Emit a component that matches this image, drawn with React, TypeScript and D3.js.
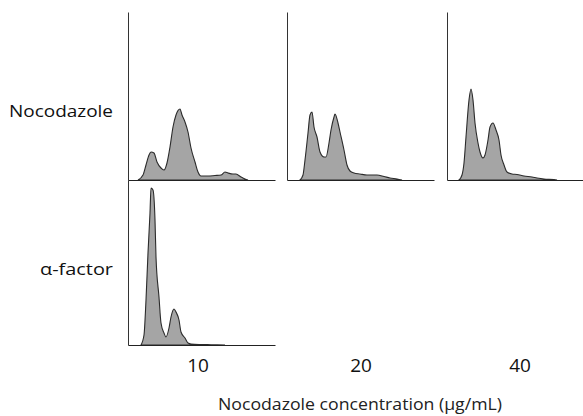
import React from 'react';
import * as d3 from 'd3';

// DNA content histograms: [channel, count]
const noco10 = [
  [10, 0], [15, 5], [18, 15], [21, 25], [23, 28], [26, 27], [29, 18], [33, 12], [36, 10],
  [39, 17], [42, 33], [45, 53], [48, 65], [52, 71], [54, 65], [57, 58], [60, 48], [63, 32],
  [67, 18], [70, 8], [73, 4], [80, 4], [87, 4.5], [93, 5], [97, 8], [100, 7], [105, 6],
  [108, 6], [113, 3], [117, 1], [120, 0],
];
const noco20 = [
  [13, 0], [16, 5], [18, 20], [21, 47], [23, 65], [25, 68], [27, 53], [30, 43], [33, 28],
  [37, 23], [39, 23], [42, 37], [44, 50], [47, 63], [48, 66], [51, 57], [53, 48], [57, 30],
  [60, 15], [63, 9], [67, 7], [73, 6], [80, 5], [90, 5], [97, 3.5], [103, 2], [110, 1], [115, 0],
];
const noco40 = [
  [12, 0], [15, 5], [17, 17], [19, 43], [22, 80], [24, 91], [26, 80], [28, 57], [31, 37],
  [33, 28], [36, 22], [38, 25], [41, 40], [43, 53], [46, 57], [49, 50], [52, 40], [54, 25],
  [57, 15], [60, 8], [65, 6], [70, 5.5], [77, 4], [85, 3], [90, 2], [97, 1], [107, 0.5], [110, 0],
];
const alpha10 = [
  [13, 0], [16, 10], [18, 45], [20, 92], [22, 132], [23, 157], [25, 155], [27, 125], [28, 88],
  [31, 48], [33, 22], [36, 12], [38, 8], [41, 17], [43, 28], [46, 36], [48, 33], [51, 25],
  [53, 13], [57, 7], [60, 2], [63, 1], [73, 0.5], [83, 0.3], [97, 0],
];

const rowLabels = ['Nocodazole', 'α-factor'];
const tickLabels = ['10', '20', '40'];
const axisTitle = 'Nocodazole concentration (µg/mL)';

const panels = [
  { data: noco10, left: 128, top: 12, bottom: 180 },
  { data: noco20, left: 287, top: 12, bottom: 180 },
  { data: noco40, left: 447, top: 12, bottom: 180 },
  { data: alpha10, left: 128, top: 180, bottom: 345 },
];

const W = 583;
const H = 416;
const PW = 147;
const font = "'Open Sans', sans-serif";

function Panel({ p }: { p: any }) {
  const gx = React.useRef<SVGGElement>(null);
  const gy = React.useRef<SVGGElement>(null);
  const x = d3.scaleLinear().domain([0, PW]).range([p.left, p.left + PW]);
  const y = d3.scaleLinear().domain([0, p.bottom - p.top]).range([p.bottom, p.top]);

  React.useEffect(() => {
    const ax = d3.select(gx.current!);
    ax.call(d3.axisBottom(x).tickValues([]).tickSizeOuter(0) as any);
    ax.select('.domain').attr('stroke', '#222');
    const ay = d3.select(gy.current!);
    ay.call(d3.axisLeft(y).tickValues([]).tickSizeOuter(0) as any);
    ay.select('.domain').attr('stroke', '#333');
  }, []);

  const area = d3.area<number[]>()
    .x(d => x(d[0]))
    .y0(y(0))
    .y1(d => y(d[1]))
    .curve(d3.curveMonotoneX);

  return (
    <g>
      <path d={area(p.data) || ''} fill="#a5a5a5" stroke="#2b2b2b" strokeWidth={1.1} />
      <g ref={gx} transform={`translate(0,${p.bottom})`} />
      <g ref={gy} transform={`translate(${p.left},0)`} />
    </g>
  );
}

export default function App() {
  const tickX = [198, 361, 520];
  return (
    <svg width={W} height={H} style={{ position: 'absolute', left: 0, top: 0, background: '#fff' }}>
      {panels.map((p, i) => <Panel key={i} p={p} />)}
      <text x={113} y={117} textAnchor="end" fontFamily={font} fontSize={16}
        textLength={104} lengthAdjust="spacingAndGlyphs" fill="#111">{rowLabels[0]}</text>
      <text x={113} y={275} textAnchor="end" fontFamily={font} fontSize={16}
        textLength={73} lengthAdjust="spacingAndGlyphs" fill="#111">{rowLabels[1]}</text>
      {tickLabels.map((t, i) => (
        <text key={t} x={tickX[i]} y={372} textAnchor="middle" fontFamily={font} fontSize={19} fill="#111">{t}</text>
      ))}
      <text x={360} y={410} textAnchor="middle" fontFamily={font} fontSize={16}
        textLength={284} lengthAdjust="spacingAndGlyphs" fill="#222">{axisTitle}</text>
    </svg>
  );
}
